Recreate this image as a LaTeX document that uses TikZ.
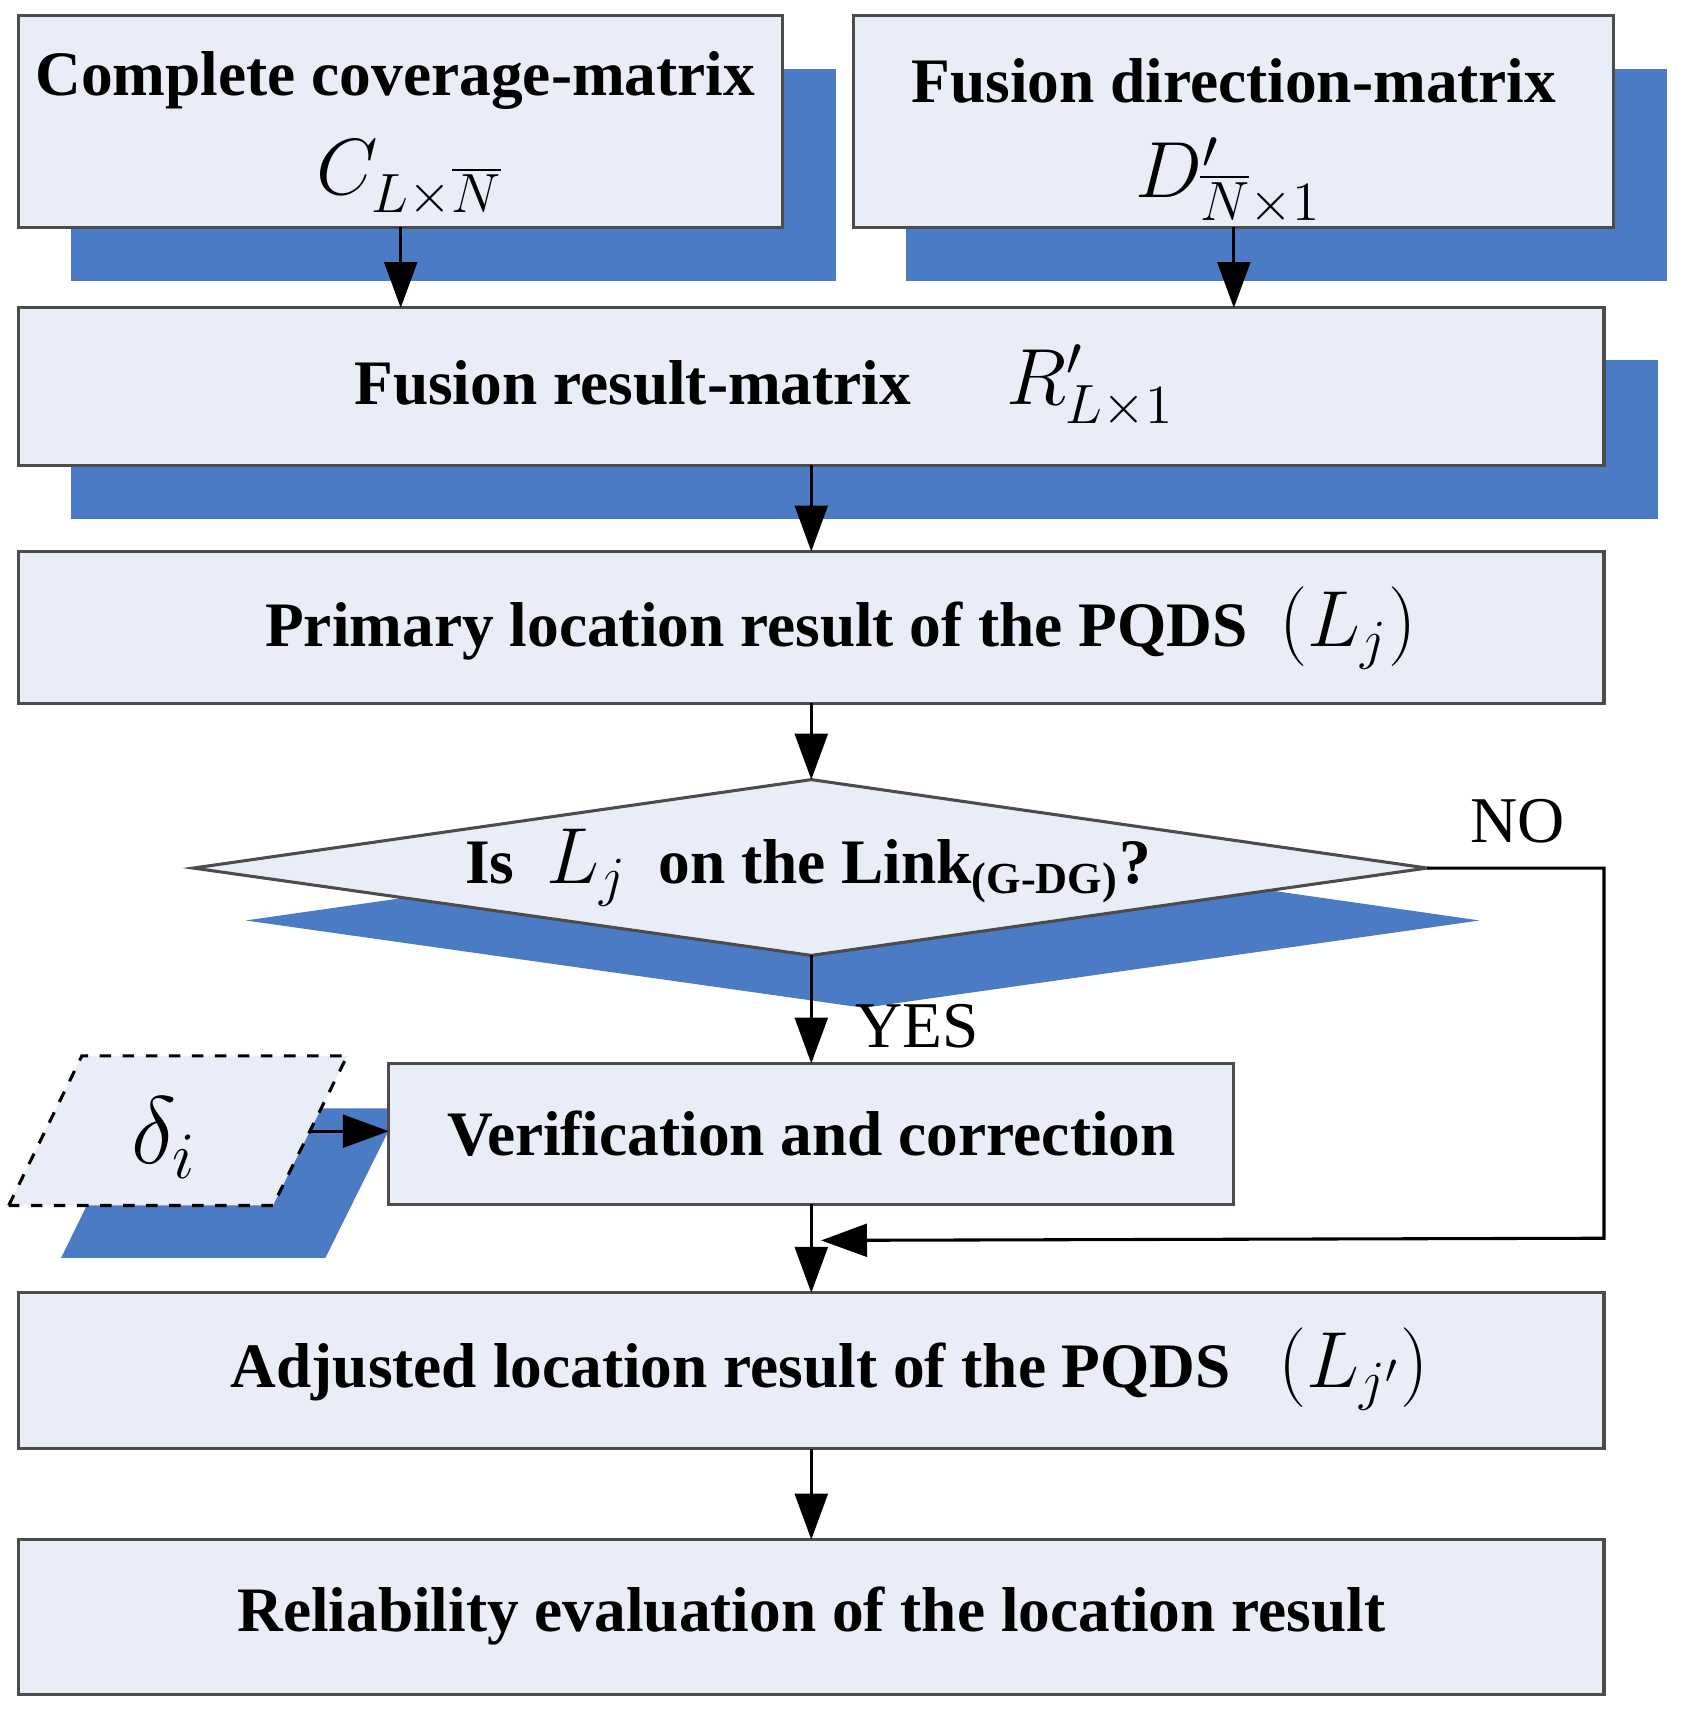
\documentclass[tikz,border=0pt]{standalone}
\usepackage{fontspec}
\setmainfont{Liberation Serif}
\usetikzlibrary{arrows.meta}
\definecolor{lb}{HTML}{E8EDF7}
\definecolor{db}{HTML}{4A7BC4}
\begin{document}
\begin{tikzpicture}[x=0.01cm,y=-0.01cm,
 box/.style={draw=black!70,fill=lb,line width=0.8pt},
 sh/.style={fill=db,draw=none},
 arr/.style={-{Triangle[length=0.42cm,width=0.3cm]},line width=0.8pt},
 lab/.style={font=\fontsize{16.5}{19}\selectfont\bfseries}]
\useasboundingbox (0,0) rectangle (1540,1567);
% shadows
\fill[sh] (65,63) rectangle (766,257);
\fill[sh] (830,63) rectangle (1527,257);
\fill[sh] (65,330) rectangle (1518,475);
\fill[sh] (225,843) -- (791,762) -- (1355,843) -- (791,923) -- cycle;
\fill[sh] (56,1152) -- (123,1015) -- (366,1015) -- (298,1152) -- cycle;
% boxes
\draw[box] (17,14) rectangle (717,208);
\node[lab] (b1) at (362,74) {Complete coverage-matrix};
\node at (375,164) {\fontsize{22}{24}\selectfont $C_{L\times\overline{N}}$};
\coordinate (b1s) at (367,208);
\draw[box] (782,14) rectangle (1478,208);
\node[lab] (b2) at (1130,74) {Fusion direction-matrix};
\node at (1125,166) {\fontsize{22}{24}\selectfont $D'_{\overline{N}\times 1}$};
\coordinate (b2s) at (1130,208);
\draw[box] (17,282) rectangle (1469,426);
\node[lab] at (700,354) {Fusion result-matrix\quad\ \ \fontsize{22}{24}\selectfont\mdseries $R'_{L\times 1}$};
\coordinate (b3n1) at (367,282); \coordinate (b3n2) at (1130,282);
\coordinate (b3s) at (743,426);
\draw[box] (17,505) rectangle (1469,644);
\node[lab] at (770,575) {Primary location result of the PQDS\ \ {\fontsize{22}{24}\selectfont\mdseries $(L_j)$}};
\coordinate (b4n) at (743,505); \coordinate (b4s) at (743,644);
\draw[box] (177,795) -- (743,714) -- (1307,795) -- (743,875) -- cycle;
\node[lab] at (740,795) {Is\ \ {\fontsize{22}{24}\selectfont\mdseries $L_j$}\ \ on the Link\textsubscript{(G-DG)}?};
\coordinate (dn) at (743,714); \coordinate (ds) at (743,875); \coordinate (de) at (1307,795);
\draw[box,dashed,draw=black] (8,1104) -- (75,967) -- (318,967) -- (250,1104) -- cycle;
\node at (150,1042) {\fontsize{26}{28}\selectfont $\delta_i$};
\coordinate (pe) at (283,1036);
\draw[box] (356,974) rectangle (1130,1103);
\node[lab] at (743,1038) {Verification and correction};
\coordinate (b5n) at (743,974); \coordinate (b5s) at (743,1103); \coordinate (b5w) at (356,1036);
\draw[box] (17,1184) rectangle (1469,1327);
\node[lab] at (760,1254) {Adjusted location result of the PQDS\ \ \ {\fontsize{22}{24}\selectfont\mdseries $(L_{j'})$}};
\coordinate (b6n) at (743,1184); \coordinate (b6s) at (743,1327);
\draw[box] (17,1410) rectangle (1469,1552);
\node[lab] at (743,1480) {Reliability evaluation of the location result};
\coordinate (b7n) at (743,1410);
% arrows
\draw[arr] (b1s) -- (b3n1);
\draw[arr] (b2s) -- (b3n2);
\draw[arr] (b3s) -- (b4n);
\draw[arr] (b4s) -- (dn);
\draw[arr] (ds) -- (b5n);
\draw[arr] (b5s) -- (b6n);
\draw[arr] (b6s) -- (b7n);
\draw[arr] (pe) -- (b5w);
\coordinate (nc) at (1469,795); \coordinate (nd) at (1469,1134); \coordinate (ne) at (752,1136);
\draw[arr] (de) -- (nc) -- (nd) -- (ne);
\node[font=\fontsize{17}{20}\selectfont] at (840,940) {YES};
\node[font=\fontsize{17}{20}\selectfont] at (1390,752) {NO};
\end{tikzpicture}
\end{document}
